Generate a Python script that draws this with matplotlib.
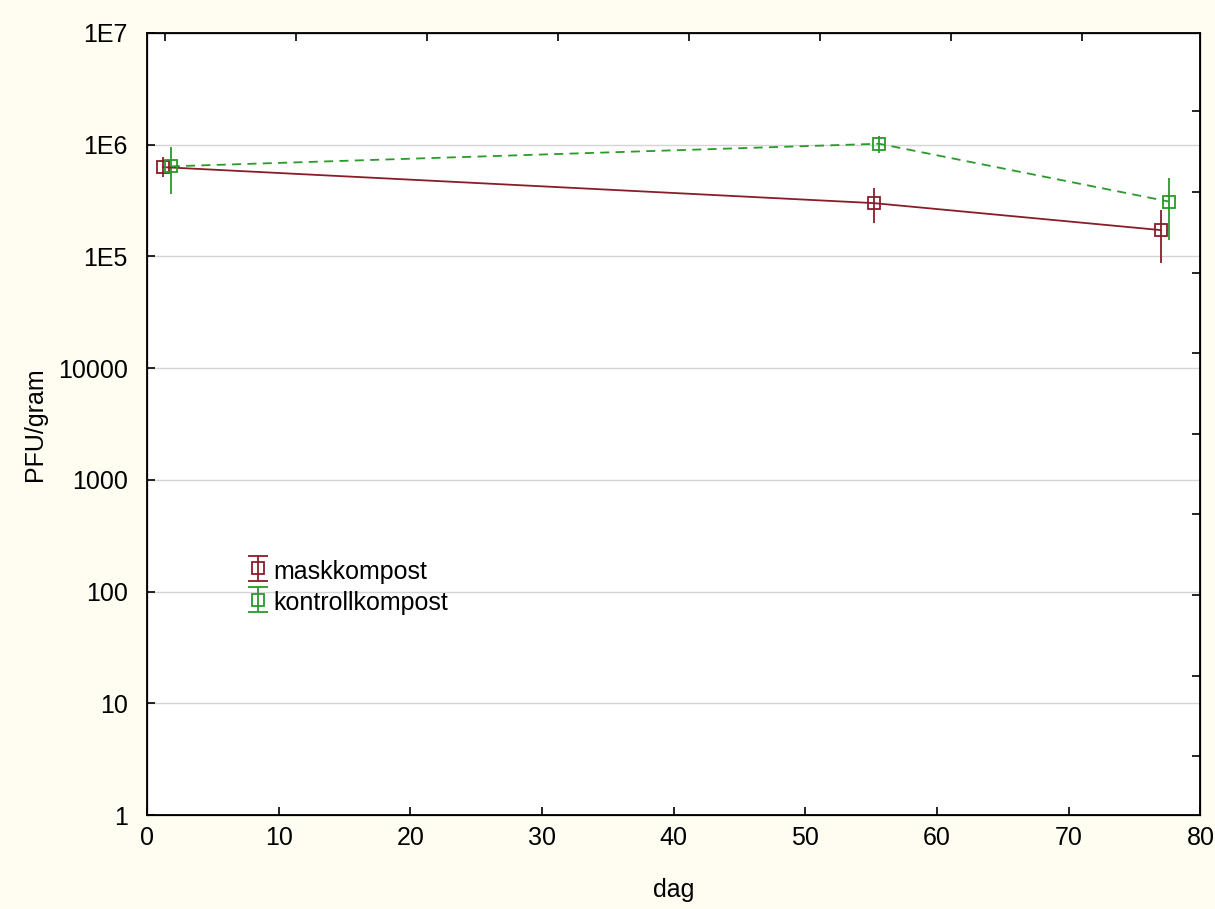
import numpy as np
import matplotlib.pyplot as plt
from matplotlib.ticker import FixedLocator, NullFormatter, NullLocator

plt.rcParams['font.family'] = ['Liberation Sans', 'DejaVu Sans']

# values
days_mask = [1.2, 55.2, 77.0]
pfu_mask = [6.3e5, 3.0e5, 1.72e5]
mask_hi = [7.8e5, 4.1e5, 2.6e5]
mask_lo = [5.1e5, 2.0e5, 8.7e4]

days_ctrl = [1.8, 55.6, 77.6]
pfu_ctrl = [6.4e5, 1.02e6, 3.1e5]
ctrl_hi = [9.6e5, 1.2e6, 5.0e5]
ctrl_lo = [3.6e5, 8.5e5, 1.4e5]

labels = ['maskkompost', 'kontrollkompost']
ytick_vals = [1, 10, 100, 1000, 10000, 1e5, 1e6, 1e7]
ytick_labels = ['1', '10', '100', '1000', '10000', '1E5', '1E6', '1E7']

RED = '#8a1c2a'
GREEN = '#2a9a2a'
BG = '#fffcf2'
FS = 18
MS = 8.5

fig = plt.figure(figsize=(12.15, 9.09), dpi=100, facecolor=BG)
ax = fig.add_axes([0.121, 0.1034, 0.867, 0.8603])
ax.set_facecolor('white')

def yerr(vals, lo, hi):
    v = np.array(vals)
    return [v - np.array(lo), np.array(hi) - v]

ax.errorbar(days_mask, pfu_mask, yerr=yerr(pfu_mask, lo=mask_lo, hi=mask_hi),
            color=RED, ls='-', lw=1.3, marker='s', ms=MS, mfc='none', mew=1.3,
            ecolor=RED, elinewidth=1.3, capsize=0, zorder=3)
ax.errorbar(days_ctrl, pfu_ctrl, yerr=yerr(pfu_ctrl, lo=ctrl_lo, hi=ctrl_hi),
            color=GREEN, ls=(0, (5, 3.5)), lw=1.3, marker='s', ms=MS, mfc='none', mew=1.3,
            ecolor=GREEN, elinewidth=1.3, capsize=0, zorder=3)

# legend proxies (with caps, as in the original legend)
h1 = ax.errorbar([np.nan], [np.nan], yerr=[1], color=RED, marker='s', ms=MS,
                 mfc='none', ls='none', capsize=7, elinewidth=1.3, mew=1.3)
h2 = ax.errorbar([np.nan], [np.nan], yerr=[1], color=GREEN, marker='s', ms=MS,
                 mfc='none', ls='none', capsize=7, elinewidth=1.3, mew=1.3)
leg = ax.legend([h1, h2], labels, loc='upper left', bbox_to_anchor=(0.083, 0.345),
                frameon=False, fontsize=FS, handlelength=0.9, handletextpad=0.15,
                handleheight=1.2, labelspacing=0.2, borderpad=0)

ax.set_yscale('log')
ax.set_ylim(1, 1e7)
ax.set_xlim(0, 80)
ax.yaxis.set_major_locator(FixedLocator(ytick_vals))
ax.set_yticklabels(ytick_labels)
ax.yaxis.set_minor_locator(NullLocator())
ax.set_xticks(range(0, 81, 10))
ax.grid(axis='y', color='#d4d4d4', lw=1)
ax.tick_params(direction='in', length=6, width=1.2, labelsize=FS)
ax.tick_params(axis='y', pad=14)
ax.tick_params(axis='x', pad=8)

for s in ax.spines.values():
    s.set_linewidth(1.3)

ax.set_xlabel('dag', fontsize=FS, labelpad=20)
ax.set_ylabel('PFU/gram', fontsize=FS, labelpad=8)

# the odd, unlabeled ticks on the top and right edges
axr = ax.twinx()
axr.set_ylim(0, 1)
axr.yaxis.set_major_locator(FixedLocator([0.075 + 0.1031 * k for k in range(9)]))
axr.yaxis.set_major_formatter(NullFormatter())
axr.tick_params(direction='in', length=6, width=1.2)
axt = ax.twiny()
axt.set_xlim(0, 1)
axt.xaxis.set_major_locator(FixedLocator([0.0171 + 0.1244 * k for k in range(8)]))
axt.xaxis.set_major_formatter(NullFormatter())
axt.tick_params(direction='in', length=6, width=1.2)

fig.savefig('out.png', dpi=100, facecolor=BG)
